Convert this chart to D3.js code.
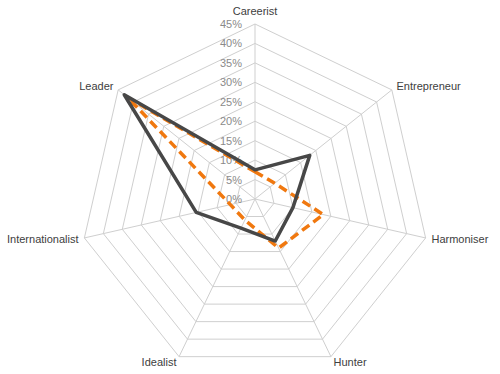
<!DOCTYPE html>
<html>
<head>
<meta charset="utf-8">
<script src="https://cdn.jsdelivr.net/npm/d3@7"></script>
<style>
  html, body { margin: 0; padding: 0; background: #fff; }
  svg { display: block; font-family: "Liberation Sans", Arial, sans-serif; }
</style>
</head>
<body>
<svg id="chart" width="500" height="374"></svg>
<script>
const categories = ["Careerist", "Entrepreneur", "Harmoniser", "Hunter", "Idealist", "Internationalist", "Leader"];
const seriesOrange = [7, 6.5, 18, 14, 6, 6.5, 42];
const seriesDark = [7.5, 18, 10, 12, 8.3, 15.5, 43];
const tickValues = [0, 5, 10, 15, 20, 25, 30, 35, 40, 45];
const tickLabels = ["0%", "5%", "10%", "15%", "20%", "25%", "30%", "35%", "40%", "45%"];

const svg = d3.select("#chart");
const cx = 255, cy = 199, R = 175;
const r = d3.scaleLinear().domain([0, 45]).range([0, R]);
const angle = d3.scaleLinear().domain([0, categories.length]).range([0, 2 * Math.PI]);

const g = svg.append("g").attr("transform", `translate(${cx},${cy})`);

// grid rings
const ring = d3.lineRadial().angle((d, i) => angle(i)).radius(d => r(d)).curve(d3.curveLinearClosed);
g.append("g").selectAll("path").data(tickValues.filter(v => v > 0)).join("path")
  .attr("d", v => ring(categories.map(() => v)))
  .attr("fill", "none").attr("stroke", "#cfcfcf").attr("stroke-width", 1);

// spokes
g.append("g").selectAll("line").data(categories).join("line")
  .attr("x1", 0).attr("y1", 0)
  .attr("x2", (d, i) => r(45) * Math.sin(angle(i)))
  .attr("y2", (d, i) => -r(45) * Math.cos(angle(i)))
  .attr("stroke", "#cfcfcf").attr("stroke-width", 1);

// tick labels
g.append("g").selectAll("text").data(tickValues).join("text")
  .attr("x", -13).attr("y", v => -r(v) + 4)
  .attr("text-anchor", "end")
  .attr("font-size", "11px").attr("fill", "#8a8a8a")
  .text((v, i) => tickLabels[i]);

// category labels
g.append("g").selectAll("text").data(categories).join("text")
  .each(function(d, i) {
    const a = angle(i), s = Math.sin(a), c = Math.cos(a);
    const rr = R + 6;
    const x = rr * s, y = -rr * c;
    const anchor = Math.abs(s) < 0.1 ? "middle" : (s > 0 ? "start" : "end");
    const dy = (Math.abs(s) < 0.1 && c > 0) ? -3 : 4;
    d3.select(this).attr("x", x).attr("y", y + dy).attr("text-anchor", anchor);
  })
  .attr("font-size", "11px").attr("fill", "#404040")
  .text(d => d);

// series
const line = d3.lineRadial().angle((d, i) => angle(i)).radius(d => r(d)).curve(d3.curveLinearClosed);
g.append("path").datum(seriesOrange)
  .attr("d", line).attr("fill", "none")
  .attr("stroke", "#f0780f").attr("stroke-width", 3.5)
  .attr("stroke-dasharray", "9,5").attr("stroke-linejoin", "round");
g.append("path").datum(seriesDark)
  .attr("d", line).attr("fill", "none")
  .attr("stroke", "#474747").attr("stroke-width", 3.5).attr("stroke-linejoin", "round");
</script>
</body>
</html>
